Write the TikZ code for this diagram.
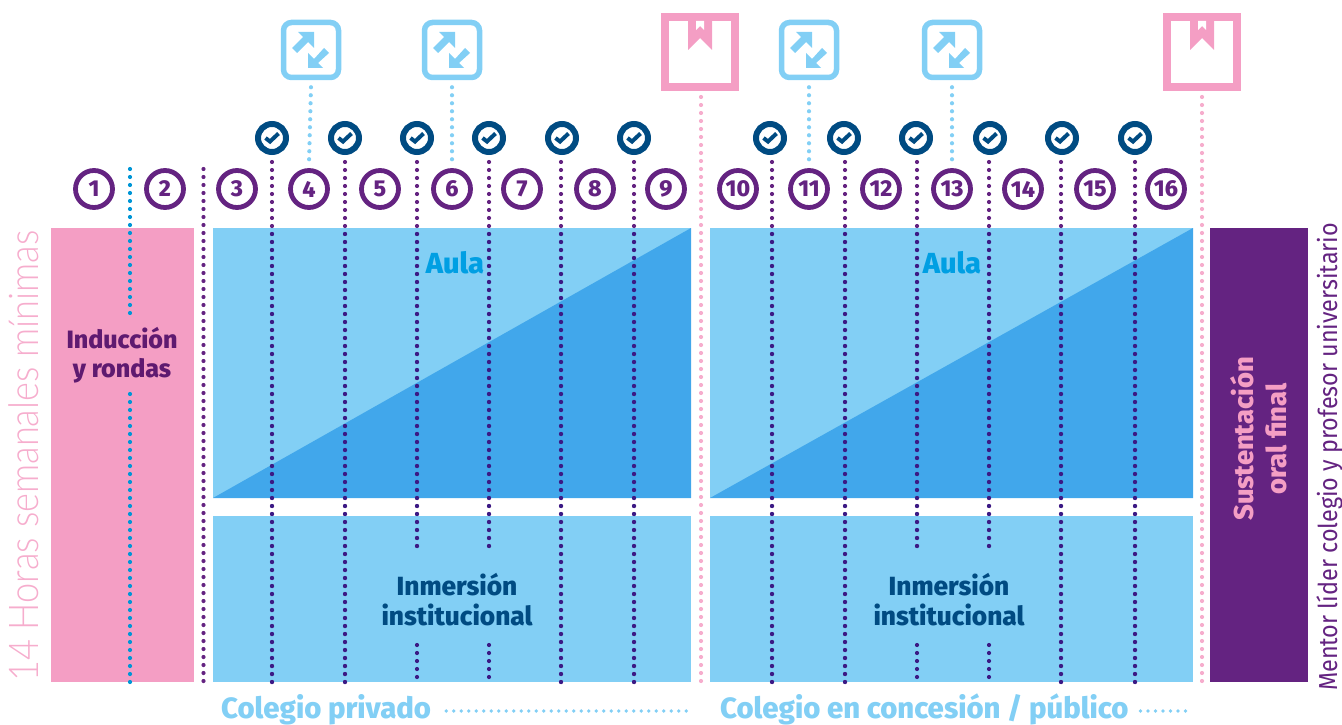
\documentclass[tikz,border=0pt]{standalone}
\usepackage{fontspec}
\setmainfont{Fira Sans}
\newfontfamily\boldf{Fira Sans}[UprightFont=* ExtraBold]
\newfontfamily\lightf{Lato}[UprightFont=* Light,FakeStretch=0.883]
\newfontfamily\narrowf{Fira Sans}[FakeStretch=0.9]
\definecolor{cpink}{HTML}{F49EC4}
\definecolor{cblue}{HTML}{82CFF5}
\definecolor{cmid}{HTML}{41A7EB}
\definecolor{cpurple}{HTML}{642381}
\definecolor{cnavy}{HTML}{004B82}
\definecolor{cindigo}{HTML}{3B1A85}
\definecolor{ccyan}{HTML}{0096D6}
\definecolor{caula}{HTML}{009FE3}
\definecolor{cplum}{HTML}{5F1A70}
\tikzset{
  x=1pt,y=-1pt,
  dots/.style={line width=4.2pt,line cap=round,dash pattern=on 0pt off 8pt},
  fine/.style={line width=3.8pt,line cap=round,dash pattern=on 0pt off 7.5pt,cblue},
  num/.style={circle,draw=cpurple,line width=4.8pt,minimum size=37pt,inner sep=0pt,text=cpurple,font=\boldf\fontsize{23}{23}\selectfont},
  chk/.style={circle,draw=cnavy,line width=6pt,minimum size=28pt,inner sep=0pt},
  exch/.style={draw=cblue,line width=5.5pt,rounded corners=8pt,minimum size=55pt,inner sep=0pt},
  book/.style={draw=cpink,line width=8pt,minimum size=70pt,inner sep=0pt},
  label/.style={font=\boldf\fontsize{26.3}{30}\selectfont,align=center,inner sep=0pt},
}
\newcommand{\tickmark}[1]{\draw[cnavy,line width=4pt] ($(#1)+(-6.5,0)$) -- ($(#1)+(-2,3.5)$) -- ($(#1)+(6.5,-4.5)$);}
\usetikzlibrary{calc}
\begin{document}
\begin{tikzpicture}
\useasboundingbox (0,0) rectangle (1342,725);
% blocks
\fill[cpink] (51,228) rectangle (194,682);
\fill[cblue] (213,228) rectangle (691,498);
\fill[cmid] (213,498) -- (691,228) -- (691,498) -- cycle;
\fill[cblue] (213,516) rectangle (691,682);
\fill[cblue] (710,228) rectangle (1193,498);
\fill[cmid] (710,498) -- (1193,228) -- (1193,498) -- cycle;
\fill[cblue] (710,516) rectangle (1193,682);
\fill[cpurple] (1210,228) rectangle (1308,682);
% numbers
\foreach \n/\px in {1/94,2/165,3/237,4/309,5/380,6/452,7/522,8/595,9/666,10/738,11/809,12/881,13/952,14/1023,15/1095,16/1166}
  \node[num] (n\n) at (\px,189) {\n};
% checks
\foreach \k/\px in {1/272,2/345,3/417,4/489,5/562,6/634,7/770,8/844,9/916,10/990,11/1062,12/1135}{
  \node[chk] (c\k) at (\px,138) {};
  \tickmark{c\k}
}
% exchange icons
\foreach \k/\px in {1/311,2/452,3/809,4/952}{
  \node[exch] (e\k) at (\px,50) {};
  \fill[cblue] ($(e\k)+(-13,-18)$) -- ($(e\k)+(3,-18)$) -- ($(e\k)+(3,-2)$) -- ($(e\k)+(-3,-8)$) -- ($(e\k)+(-14,3)$) -- ($(e\k)+(-19,-2)$) -- ($(e\k)+(-8,-13)$) -- cycle;
  \fill[cblue] ($(e\k)+(12,18)$) -- ($(e\k)+(-3,18)$) -- ($(e\k)+(-3,3)$) -- ($(e\k)+(3,9)$) -- ($(e\k)+(13,-2)$) -- ($(e\k)+(18,3)$) -- ($(e\k)+(7,13)$) -- cycle;
}
% bookmark icons
\foreach \k/\px in {1/700,2/1202}{
  \node[book] (b\k) at (\px,52) {};
  \fill[cpink] ($(b\k)+(-12,-38)$) -- ($(b\k)+(12,-38)$) -- ($(b\k)+(12,-2)$) -- ($(b\k)+(0,-14)$) -- ($(b\k)+(-12,-2)$) -- cycle;
  \fill[white] ($(b\k)+(-4,-31)$) -- ($(b\k)+(4,-31)$) -- ($(b\k)+(4,-22)$) -- ($(b\k)+(0,-26)$) -- ($(b\k)+(-4,-22)$) -- cycle;
}
% coordinates for free ends
\foreach \k/\px in {1/272,2/345,3/417,4/489,5/561,6/634,7/772,8/845,9/917,10/989,11/1061,12/1135}{
  \coordinate (top\k) at (\px,162);
  \coordinate (end\k) at (\px,682);
}
\coordinate (ta) at (130,169); \coordinate (tb) at (130,318);
\coordinate (tc) at (130,394); \coordinate (td) at (130,682);
\coordinate (pa) at (203.5,169); \coordinate (pb) at (203.5,682);
\coordinate (ra) at (701,97);  \coordinate (rb) at (701,682);
\coordinate (sa) at (1202,97); \coordinate (sb) at (1202,682);
% connectors
\draw[dots,ccyan] (ta) -- (tb);
\draw[dots,ccyan] (tc) -- (td);
\draw[dots,cpurple] (pa) -- (pb);
\draw[dots,cpink!85] (ra) -- (rb);
\draw[dots,cpink!85] (sa) -- (sb);
\foreach \k in {1,2,5,6,7,8,11,12}{
  \draw[dots,cpurple] (top\k) -- (end\k);
  \begin{scope}\clip (0,228) rectangle (1342,690);
    \draw[dots,cindigo] (top\k) -- (end\k);
  \end{scope}
}
\foreach \k in {3,4,9,10}{
  \coordinate (mid\k) at ($(top\k)+(0,390)$);
  \coordinate (low\k) at ($(end\k)+(0,-37)$);
  \draw[dots,cpurple] (top\k) -- (mid\k);
  \begin{scope}\clip (0,228) rectangle (1342,690);
    \draw[dots,cindigo] (top\k) -- (mid\k);
    \draw[dots,cindigo] (low\k) -- (end\k);
  \end{scope}
}
\foreach \k/\n in {1/4,2/6,3/11,4/13}{
  \draw[dots,cblue] ([yshift=-7pt]e\k.south) -- ([yshift=5pt]n\n.north);
}
% bottom dotted lines
\coordinate (da) at (691,711); \coordinate (db) at (1193,711);
% texts
\node[label,text=caula,font=\boldf\fontsize{29}{30}\selectfont] (au1) at (455,263) {Aula};
\node[label,text=caula,font=\boldf\fontsize{29}{30}\selectfont] (au2) at (952,263) {Aula};
\node[label,text=cnavy] (in1) at (457,600) {Inmersión\\[0pt]institucional};
\node[label,text=cnavy] (in2) at (949,600) {Inmersión\\[0pt]institucional};
\node[label,text=cplum,font=\boldf\fontsize{25.1}{29}\selectfont] (ind) at (122,355) {Inducción\\y rondas};
\node[label,text=cpink,rotate=90,font=\boldf\fontsize{27.3}{33}\selectfont] (sus) at (1259,439) {Sustentación\\oral final};
\node[label,text=cblue,anchor=base west,font=\boldf\fontsize{29.3}{30}\selectfont] (cp) at (221,718) {Colegio privado};
\node[label,text=cblue,anchor=base west,font=\boldf\fontsize{29.3}{30}\selectfont] (cc) at (720,718) {Colegio en concesión / público};
\draw[fine] ([xshift=15pt,yshift=7pt]cp.base east) -- (da);
\draw[fine] ([xshift=12pt,yshift=7pt]cc.base east) -- (db);
\node[text=cpink!85,rotate=90,anchor=base west,inner sep=0pt,font=\lightf\fontsize{41}{41}\selectfont] (hrs) at (38,682) {14 Horas semanales mínimas};
\node[text=cpurple,rotate=90,anchor=base west,inner sep=0pt,font=\narrowf\fontsize{26}{26}\selectfont] (men) at (1337,691) {Mentor líder colegio y profesor universitario};
\end{tikzpicture}
\end{document}
